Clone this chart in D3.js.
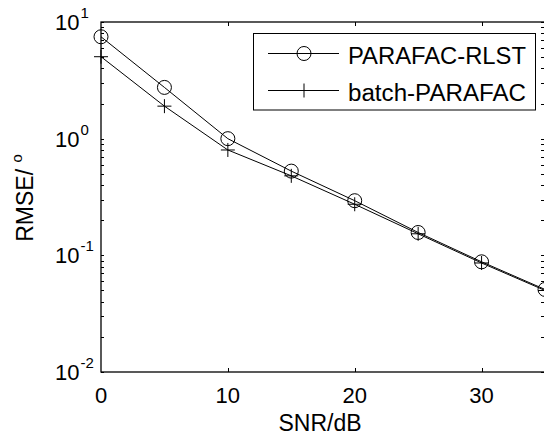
<!DOCTYPE html>
<html>
<head>
<meta charset="utf-8">
<script src="https://cdn.jsdelivr.net/npm/d3@7"></script>
<style>
body { margin: 0; background: #fff; }
text { font-family: "Liberation Sans", Arial, sans-serif; fill: #000; }
</style>
</head>
<body>
<svg id="chart"></svg>
<script>
// values
var snr = [0, 5, 10, 15, 20, 25, 30, 35];
var rlst = [7.47, 2.75, 1.0, 0.527, 0.294, 0.157, 0.088, 0.051];
var batch = [5.04, 1.90, 0.80, 0.48, 0.274, 0.153, 0.086, 0.050];
var xTicks = [0, 10, 20, 30];
var yTicks = [0.01, 0.1, 1, 10];
var yExp = ['-2', '-1', '0', '1'];
var names = ['PARAFAC-RLST', 'batch-PARAFAC'];

var width = 544, height = 437;
var svg = d3.select('#chart').attr('width', width).attr('height', height);

var x = d3.scaleLinear().domain([0, 35]).range([101, 545]);
var y = d3.scaleLog().domain([0.01, 10]).range([372, 22]);

// minor ticks for the log axis
var minor = [];
[0.01, 0.1, 1].forEach((d) => {
  for (var k = 2; k <= 9; k++) minor.push(d * k);
});

var g = svg.append('g');

// box
g.append('rect')
  .attr('x', x(0)).attr('y', y(10))
  .attr('width', x(35) - x(0)).attr('height', y(0.01) - y(10))
  .attr('fill', 'none').attr('stroke', '#000').attr('stroke-width', 1.3);

// y ticks, both sides, inward
var allY = yTicks.concat(minor);
g.selectAll('.yl').data(allY).enter().append('line')
  .attr('x1', x(0)).attr('x2', x(0) + 3)
  .attr('y1', (d) => Math.round(y(d)) + 0.5).attr('y2', (d) => Math.round(y(d)) + 0.5)
  .attr('stroke', '#000');
g.selectAll('.yr').data(allY).enter().append('line')
  .attr('x1', x(35)).attr('x2', x(35) - 4)
  .attr('y1', (d) => Math.round(y(d)) + 0.5).attr('y2', (d) => Math.round(y(d)) + 0.5)
  .attr('stroke', '#000');

// x ticks, top and bottom, inward
g.selectAll('.xb').data(xTicks.slice(1)).enter().append('line')
  .attr('x1', (d) => Math.round(x(d)) + 0.5).attr('x2', (d) => Math.round(x(d)) + 0.5)
  .attr('y1', y(0.01)).attr('y2', y(0.01) - 4)
  .attr('stroke', '#000');
g.selectAll('.xt').data(xTicks.slice(1)).enter().append('line')
  .attr('x1', (d) => Math.round(x(d)) + 0.5).attr('x2', (d) => Math.round(x(d)) + 0.5)
  .attr('y1', y(10)).attr('y2', y(10) + 4)
  .attr('stroke', '#000');

// x tick labels
g.selectAll('.xlab').data(xTicks).enter().append('text')
  .attr('x', (d) => x(d)).attr('y', 403)
  .attr('text-anchor', 'middle').attr('font-size', 22)
  .text((d) => d);

// y tick labels 10^n
var ylab = g.selectAll('.ylab').data(yTicks).enter().append('text')
  .attr('x', 55).attr('y', (d) => y(d) + 8)
  .attr('font-size', 22);
ylab.append('tspan').text('10');
ylab.append('tspan').attr('dy', -12).attr('dx', 1).attr('font-size', 15)
  .text((d, i) => yExp[i]);

// axis titles
svg.append('text').attr('x', 320).attr('y', 431)
  .attr('text-anchor', 'middle').attr('font-size', 23).text('SNR/dB');
var yt = svg.append('text')
  .attr('transform', 'translate(33,198) rotate(-90)')
  .attr('text-anchor', 'middle').attr('font-size', 23);
yt.append('tspan').text('RMSE/ ');
yt.append('tspan').attr('dy', -11).attr('font-size', 15).text('o');

// series
var line = d3.line().x((d) => x(d[0])).y((d) => y(d[1]));
var series = [d3.zip(snr, rlst), d3.zip(snr, batch)];

var plot = svg.append('g');
series.forEach((s) => {
  plot.append('path').attr('d', line(s))
    .attr('fill', 'none').attr('stroke', '#000').attr('stroke-width', 1);
});

function circleMark(sel, cx, cy) {
  sel.append('circle').attr('cx', cx).attr('cy', cy).attr('r', 7)
    .attr('fill', 'none').attr('stroke', '#000').attr('stroke-width', 1);
}
function plusMark(sel, cx, cy) {
  sel.append('path')
    .attr('d', 'M' + (cx - 7) + ',' + cy + 'H' + (cx + 7) + 'M' + cx + ',' + (cy - 7) + 'V' + (cy + 7))
    .attr('fill', 'none').attr('stroke', '#000').attr('stroke-width', 1);
}
series[0].forEach((d) => circleMark(plot, x(d[0]), y(d[1])));
series[1].forEach((d) => plusMark(plot, x(d[0]), y(d[1])));

// legend
var leg = svg.append('g');
leg.append('rect').attr('x', 253.5).attr('y', 33.5).attr('width', 282).attr('height', 76.5)
  .attr('fill', '#fff').attr('stroke', '#000').attr('stroke-width', 1);
var rows = [53.5, 90.5];
names.forEach((n, i) => {
  leg.append('line').attr('x1', 268).attr('x2', 339).attr('y1', rows[i]).attr('y2', rows[i])
    .attr('stroke', '#000');
  if (i == 0) circleMark(leg, 304, rows[i]);
  else plusMark(leg, 304, rows[i]);
  leg.append('text').attr('x', 348).attr('y', rows[i] + 10)
    .attr('font-size', 23).attr('textLength', 178).attr('lengthAdjust', 'spacingAndGlyphs')
    .text(n);
});
</script>
</body>
</html>
